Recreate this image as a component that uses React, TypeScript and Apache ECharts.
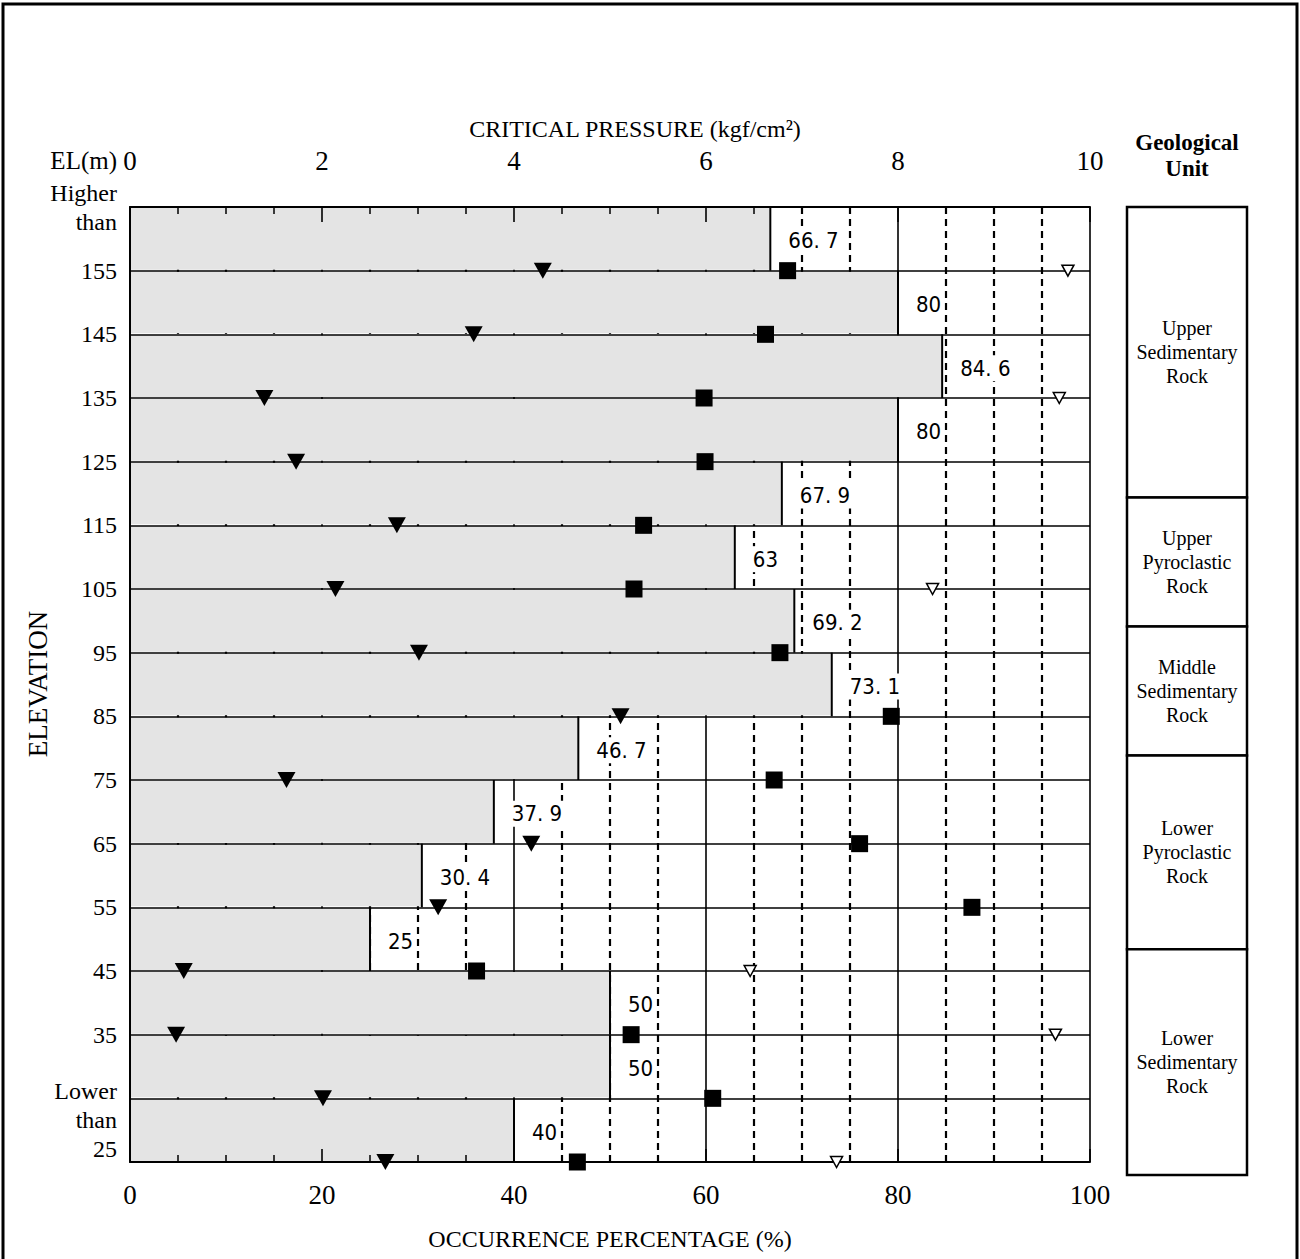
import React, { useEffect, useRef } from 'react';
import * as echarts from 'echarts';

// Elevation labels at row boundaries (boundary index 0..14)
const ELEV_LABELS = ['Higher\nthan', '155', '145', '135', '125', '115', '105', '95', '85', '75', '65', '55', '45', '35', 'Lower\nthan\n25'];
// Occurrence percentage (stippled bar) per elevation band, top to bottom
const BAR_PCT = [66.7, 80, 84.6, 80, 67.9, 63, 69.2, 73.1, 46.7, 37.9, 30.4, 25, 50, 50, 40];
// Critical pressure (kgf/cm2) markers per band (drawn on the band's lower boundary)
const MIN_P = [4.3, 3.58, 1.4, 1.73, 2.78, 2.14, 3.01, 5.11, 1.63, 4.18, 3.21, 0.56, 0.48, 2.01, 2.66];
const AVG_P = [6.85, 6.62, 5.98, 5.99, 5.35, 5.25, 6.77, 7.93, 6.71, 7.6, 8.77, 3.61, 5.22, 6.07, 4.66];
const MAX_P: (number | null)[] = [9.77, null, 9.68, null, null, 8.36, null, null, null, null, null, 6.46, 9.64, null, 7.36];
// Geological units and their elevation boundaries (m)
const GEO_UNITS = ['Upper\nSedimentary\nRock', 'Upper\nPyroclastic\nRock', 'Middle\nSedimentary\nRock', 'Lower\nPyroclastic\nRock', 'Lower\nSedimentary\nRock'];
const GEO_BOUNDS = [165, 120, 100, 80, 50, 15];

const SERIF = "'Liberation Serif', 'Times New Roman', serif";
const NARROW = "'Liberation Sans Narrow', 'DejaVu Sans Condensed', 'Liberation Sans', sans-serif";

function fmtPct(v: number) {
  return String(v).replace('.', '. ');
}

export default function App() {
  const ref = useRef<HTMLDivElement>(null);
  useEffect(() => {
    document.body.style.margin = '0';
    if (!ref.current) return;
    const chart = echarts.init(ref.current, null, { renderer: 'svg' });
    const black = '#000';
    const option: any = {
      animation: false,
      backgroundColor: '#fff',
      grid: [
        { left: 130, right: 210, top: 207, bottom: 97 },
        { left: 1127, right: 53, top: 207, bottom: 84 },
      ],
      xAxis: [
        {
          gridIndex: 0, type: 'value', min: 0, max: 100, interval: 20, position: 'bottom', z: 0,
          axisLine: { show: false }, axisTick: { show: false }, axisLabel: { show: false },
          splitLine: { show: true, lineStyle: { color: black, width: 1.6 } },
          minorTick: { show: false, splitNumber: 4 },
          minorSplitLine: { show: true, lineStyle: { color: black, width: 2.2, type: [7, 5] } },
        },
        {
          gridIndex: 0, type: 'value', min: 0, max: 100, interval: 20, position: 'bottom', z: 10,
          axisLine: { show: true, lineStyle: { color: black, width: 2 } },
          axisTick: { show: true, inside: true, length: 13, lineStyle: { color: black, width: 1.6 } },
          minorTick: { show: true, splitNumber: 4, length: 7, lineStyle: { color: black, width: 1.5 } },
          splitLine: { show: false },
          axisLabel: { color: black, fontFamily: SERIF, fontSize: 27, margin: 19 },
          name: 'OCCURRENCE PERCENTAGE (%)', nameLocation: 'middle', nameGap: 65,
          nameTextStyle: { color: black, fontFamily: SERIF, fontSize: 24 },
        },
        {
          gridIndex: 0, type: 'value', min: 0, max: 10, interval: 2, position: 'top', z: 10,
          axisLine: { show: true, lineStyle: { color: black, width: 2 } },
          axisTick: { show: true, inside: true, length: 15, lineStyle: { color: black, width: 1.6 } },
          minorTick: { show: true, splitNumber: 4, length: 7, lineStyle: { color: black, width: 1.5 } },
          splitLine: { show: false },
          axisLabel: { color: black, fontFamily: SERIF, fontSize: 27, margin: 33 },
          name: 'CRITICAL PRESSURE (kgf/cm²)', nameLocation: 'middle', nameGap: 66,
          nameTextStyle: { color: black, fontFamily: SERIF, fontSize: 24, padding: [0, 0, 0, 50] },
        },
        { gridIndex: 1, type: 'value', min: 0, max: 1, show: false },
      ],
      yAxis: [
        {
          gridIndex: 0, type: 'value', min: 0, max: 15, interval: 1, inverse: true, z: 10,
          axisLine: { show: true, lineStyle: { color: black, width: 2 } },
          axisTick: { show: false },
          splitLine: { show: true, lineStyle: { color: black, width: 1.7 } },
          axisLabel: {
            color: black, fontFamily: SERIF, fontSize: 24, lineHeight: 29, margin: 13,
            formatter: (val: number) => {
              const i = Math.round(val);
              const s = ELEV_LABELS[i] ?? '';
              return i === ELEV_LABELS.length - 1 ? '{p| }\n' + s : s;
            },
            rich: { p: { lineHeight: 44, fontSize: 10 } },
          },
          name: 'EL(m)', nameLocation: 'start', nameGap: 47,
          nameTextStyle: { color: black, fontFamily: SERIF, fontSize: 25, align: 'right', verticalAlign: 'middle', padding: [0, 13, 0, 0] },
        },
        { gridIndex: 1, type: 'value', min: 15, max: 165, show: false },
      ],
      series: [
        {
          type: 'custom', xAxisIndex: 0, yAxisIndex: 0, z: 2,
          data: BAR_PCT.map((v, i) => [v, i]),
          renderItem: (params: any, api: any) => {
            const v = api.value(0);
            const i = api.value(1);
            const p0 = api.coord([0, i]);
            const p1 = api.coord([v, i + 1]);
            const x0 = p0[0], y0 = p0[1], x1 = p1[0], y1 = p1[1];
            return {
              type: 'group',
              children: [
                { type: 'rect', shape: { x: x0 + 1, y: y0 + 1, width: x1 - x0 - 1, height: y1 - y0 - 2 }, style: { fill: '#e4e4e4' } },
                { type: 'line', shape: { x1: x1, y1: y0, x2: x1, y2: y1 }, style: { stroke: black, lineWidth: 2 } },
                {
                  type: 'text', x: x1 + 15, y: (y0 + y1) / 2 + 2,
                  style: {
                    text: fmtPct(v), fill: black, fontFamily: NARROW, fontSize: 22,
                    align: 'left', verticalAlign: 'middle', backgroundColor: '#fff', padding: [2, 3],
                  },
                },
              ],
            };
          },
        },
        {
          type: 'scatter', xAxisIndex: 2, yAxisIndex: 0, z: 20, clip: false,
          symbol: 'triangle', symbolRotate: 180, symbolSize: [18, 16],
          itemStyle: { color: black, opacity: 1 },
          data: MIN_P.map((v, i) => [v, i + 1]),
        },
        {
          type: 'scatter', xAxisIndex: 2, yAxisIndex: 0, z: 20, clip: false,
          symbol: 'rect', symbolSize: 17,
          itemStyle: { color: black, opacity: 1 },
          data: AVG_P.map((v, i) => [v, i + 1]),
        },
        {
          type: 'scatter', xAxisIndex: 2, yAxisIndex: 0, z: 20, clip: false,
          symbol: 'triangle', symbolRotate: 180, symbolSize: [12, 11],
          itemStyle: { color: '#fff', borderColor: black, borderWidth: 1.5, opacity: 1 },
          data: MAX_P.map((v, i) => (v == null ? null : [v, i + 1])).filter((d) => d !== null),
        },
        {
          type: 'custom', xAxisIndex: 3, yAxisIndex: 1, z: 5,
          data: GEO_UNITS.map((n, i) => [GEO_BOUNDS[i], GEO_BOUNDS[i + 1], i]),
          renderItem: (params: any, api: any) => {
            const top = api.value(0);
            const bot = api.value(1);
            const idx = api.value(2);
            const a = api.coord([0, top]);
            const b = api.coord([1, bot]);
            return {
              type: 'group',
              children: [
                { type: 'rect', shape: { x: a[0], y: a[1], width: b[0] - a[0], height: b[1] - a[1] }, style: { fill: '#fff', stroke: black, lineWidth: 2.5 } },
                {
                  type: 'text', x: (a[0] + b[0]) / 2, y: (a[1] + b[1]) / 2,
                  style: { text: GEO_UNITS[idx], fill: black, fontFamily: SERIF, fontSize: 20, lineHeight: 24, align: 'center', verticalAlign: 'middle' },
                },
              ],
            };
          },
        },
      ],
      graphic: [
        { type: 'rect', shape: { x: 3, y: 4, width: 1294, height: 1275 }, style: { fill: 'none', stroke: black, lineWidth: 3 }, z: 100 },
        {
          type: 'text', x: 38, y: 684, rotation: Math.PI / 2,
          style: { text: 'ELEVATION', fill: black, fontFamily: SERIF, fontSize: 27, align: 'center', verticalAlign: 'middle' },
        },
        {
          type: 'text', x: 1187, y: 155,
          style: { text: 'Geological\nUnit', fill: black, fontFamily: SERIF, fontSize: 23, fontWeight: 'bold', lineHeight: 26, align: 'center', verticalAlign: 'middle' },
        },
      ],
    };
    chart.setOption(option);
    return () => chart.dispose();
  }, []);
  return <div ref={ref} style={{ width: 1300, height: 1259 }} />;
}
